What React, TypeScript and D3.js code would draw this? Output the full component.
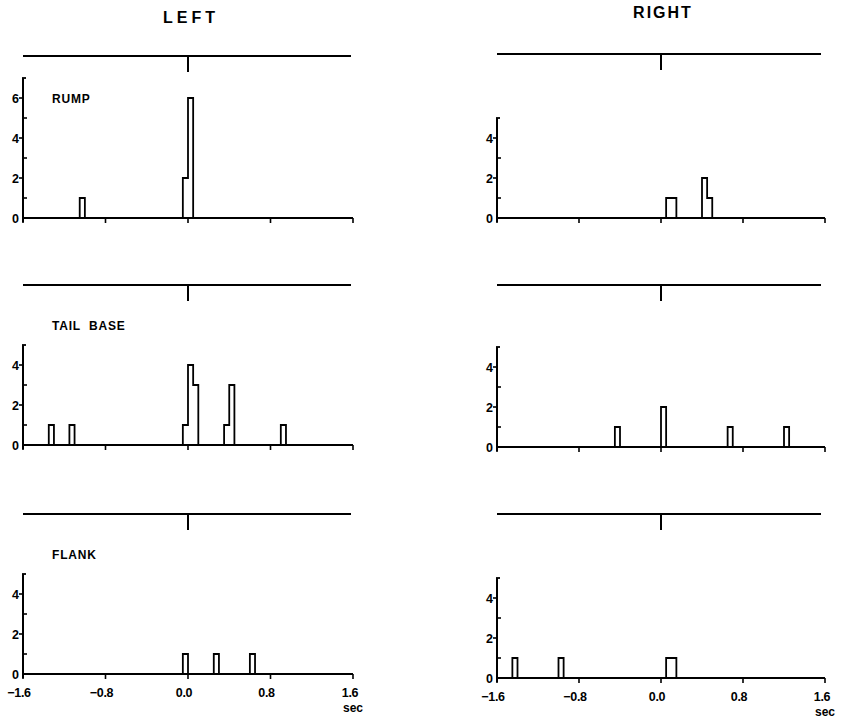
// App.tsx
import React, { useEffect, useRef } from 'react';
import * as d3 from 'd3';

// bin width of the histograms, seconds
const BIN = 0.05;

// left side: bin start (sec) and counts
const leftRumpStarts = [-1.05, -0.05, 0.0];
const leftRumpCounts = [1, 2, 6];
const leftTailStarts = [-1.35, -1.15, -0.05, 0.0, 0.05, 0.35, 0.4, 0.9];
const leftTailCounts = [1, 1, 1, 4, 3, 1, 3, 1];
const leftFlankStarts = [-0.05, 0.25, 0.6];
const leftFlankCounts = [1, 1, 1];

// right side
const rightRumpStarts = [0.05, 0.1, 0.4, 0.45];
const rightRumpCounts = [1, 1, 2, 1];
const rightTailStarts = [-0.45, 0.0, 0.65, 1.2];
const rightTailCounts = [1, 2, 1, 1];
const rightFlankStarts = [-1.45, -1.0, 0.05, 0.1];
const rightFlankCounts = [1, 1, 1, 1];

const panelLabels = ['RUMP', 'TAIL BASE', 'FLANK'];
const yMaxLeft = [7, 5, 5];
const yMaxRight = [5, 5, 5];
const xTicks = [-1.6, -0.8, 0, 0.8, 1.6];
const FONT = "'Liberation Sans', Arial, sans-serif";

const App = () => {
  const svgRef = useRef<SVGSVGElement>(null);

  useEffect(() => {
    const svg = d3.select(svgRef.current);
    svg.selectAll('*').remove();

    const unit = 20; // px per count

    const sides = [
      {
        title: 'LEFT',
        titleX: 191,
        titleY: 23,
        spacing: 4,
        x0: 23,
        x1: 353,
        traceEnd: 351,
        baselines: [218, 445, 674],
        traces: [56, 285, 514],
        yMax: yMaxLeft,
        data: [
          [leftRumpStarts, leftRumpCounts],
          [leftTailStarts, leftTailCounts],
          [leftFlankStarts, leftFlankCounts],
        ],
        labels: true,
      },
      {
        title: 'RIGHT',
        titleX: 663,
        titleY: 18,
        spacing: 2,
        x0: 497,
        x1: 825,
        traceEnd: 821,
        baselines: [218, 447, 678],
        traces: [54, 285, 514],
        yMax: yMaxRight,
        data: [
          [rightRumpStarts, rightRumpCounts],
          [rightTailStarts, rightTailCounts],
          [rightFlankStarts, rightFlankCounts],
        ],
        labels: false,
      },
    ];

    sides.forEach((side) => {
      const x = d3.scaleLinear().domain([-1.6, 1.6]).range([side.x0, side.x1]);

      svg
        .append('text')
        .attr('x', side.titleX)
        .attr('y', side.titleY)
        .attr('text-anchor', 'middle')
        .attr('font-family', FONT)
        .attr('font-weight', 'bold')
        .attr('font-size', 16)
        .attr('letter-spacing', side.spacing)
        .text(side.title);

      side.data.forEach(([starts, counts], i) => {
        const base = side.baselines[i];
        const ymax = side.yMax[i];
        const y = d3.scaleLinear().domain([0, ymax]).range([base, base - ymax * unit]);
        const g = svg.append('g').attr('stroke', '#000').attr('fill', 'none');

        // stimulus trace with marker at time 0
        g.append('line')
          .attr('x1', x(-1.6))
          .attr('x2', side.traceEnd)
          .attr('y1', side.traces[i])
          .attr('y2', side.traces[i])
          .attr('stroke-width', 2.2);
        g.append('line')
          .attr('x1', x(0))
          .attr('x2', x(0))
          .attr('y1', side.traces[i])
          .attr('y2', side.traces[i] + 16)
          .attr('stroke-width', 2);

        // panel label
        if (side.labels) {
          const ly = i === 0 ? y(6) + 5 : y(ymax) - 15;
          svg
            .append('text')
            .attr('x', 52)
            .attr('y', ly)
            .attr('font-family', FONT)
            .attr('font-weight', 'bold')
            .attr('font-size', 12)
            .attr('letter-spacing', 0.8)
            .attr('xml:space', 'preserve')
            .text(panelLabels[i].replace(' ', '  '));
        }

        // histogram outline, contiguous bins joined
        const bins = (starts as number[]).map((s, k) => ({ s, c: (counts as number[])[k] }));
        const groups: { s: number; c: number }[][] = [];
        bins.forEach((b) => {
          const last = groups[groups.length - 1];
          if (last && Math.abs(last[last.length - 1].s + BIN - b.s) < 1e-6) last.push(b);
          else groups.push([b]);
        });
        const line = d3.line<[number, number]>();
        groups.forEach((grp) => {
          const pts: [number, number][] = [[x(grp[0].s), y(0)]];
          grp.forEach((b) => {
            pts.push([x(b.s), y(b.c)]);
            pts.push([x(b.s + BIN), y(b.c)]);
          });
          pts.push([x(grp[grp.length - 1].s + BIN), y(0)]);
          g.append('path').attr('d', line(pts)).attr('stroke-width', 1.8);
        });

        // x baseline + ticks
        g.append('line')
          .attr('x1', x(-1.6))
          .attr('x2', x(1.6))
          .attr('y1', y(0))
          .attr('y2', y(0))
          .attr('stroke-width', 2.2);
        xTicks.forEach((t) => {
          g.append('line')
            .attr('x1', x(t))
            .attr('x2', x(t))
            .attr('y1', y(0))
            .attr('y2', y(0) + 5)
            .attr('stroke-width', 1.6);
        });

        // y axis
        g.append('line')
          .attr('x1', x(-1.6))
          .attr('x2', x(-1.6))
          .attr('y1', y(0) + 4)
          .attr('y2', y(ymax))
          .attr('stroke-width', 2);
        g.append('line')
          .attr('x1', x(-1.6) - 1)
          .attr('x2', x(-1.6) + 3)
          .attr('y1', y(ymax))
          .attr('y2', y(ymax))
          .attr('stroke-width', 1.8);
        d3.range(1, ymax).forEach((v) => {
          const major = v % 2 === 0;
          g.append('line')
            .attr('x1', major ? x(-1.6) - 4 : x(-1.6))
            .attr('x2', major ? x(-1.6) : x(-1.6) + 4)
            .attr('y1', y(v))
            .attr('y2', y(v))
            .attr('stroke-width', 1.6);
        });
        d3.range(0, ymax, 2).forEach((v) => {
          svg
            .append('text')
            .attr('x', x(-1.6) - 4)
            .attr('y', y(v) + 4.5)
            .attr('text-anchor', 'end')
            .attr('font-family', FONT)
            .attr('font-weight', 'bold')
            .attr('font-size', 12.5)
            .text(v);
        });

        // bottom row: time labels
        if (i === 2) {
          xTicks.forEach((t) => {
            svg
              .append('text')
              .attr('x', x(t) - (t === 1.6 ? 3 : 4))
              .attr('y', y(0) + 23)
              .attr('text-anchor', 'middle')
              .attr('font-family', FONT)
              .attr('font-weight', 'bold')
              .attr('font-size', 12.5)
              .attr('letter-spacing', -0.3)
              .text(t < 0 ? `\u2212${Math.abs(t).toFixed(1)}` : t.toFixed(1));
          });
          svg
            .append('text')
            .attr('x', x(1.6) - 10)
            .attr('y', y(0) + 38)
            .attr('font-family', FONT)
            .attr('font-weight', 'bold')
            .attr('font-size', 12)
            .text('sec');
        }
      });
    });
  }, []);

  return (
    <svg
      ref={svgRef}
      width={842}
      height={721}
      style={{ position: 'absolute', left: 0, top: 0, background: '#fff' }}
    />
  );
};

export default App;
